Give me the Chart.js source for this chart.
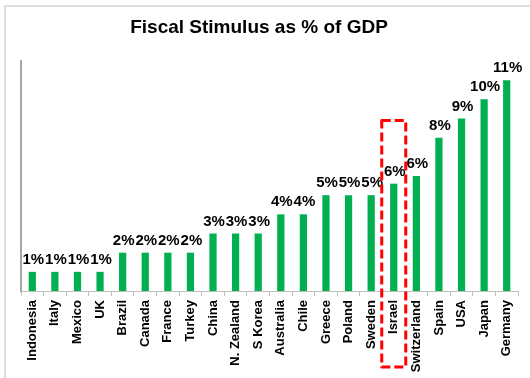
<!DOCTYPE html>
<html>
<head>
<meta charset="utf-8">
<script src="https://cdn.jsdelivr.net/npm/chart.js@4.4.0/dist/chart.umd.min.js"></script>
<style>
  body { margin: 0; background: #fff; }
  #wrap { width: 530px; height: 378px; }
</style>
</head>
<body>
<div id="wrap"><canvas id="c" width="530" height="378"></canvas></div>
<script>
var countries = ['Indonesia', 'Italy', 'Mexico', 'UK', 'Brazil', 'Canada', 'France', 'Turkey', 'China',
    'N. Zealand', 'S Korea', 'Australia', 'Chile', 'Greece', 'Poland', 'Sweden', 'Israel', 'Switzerland',
    'Spain', 'USA', 'Japan', 'Germany'];
var stimulus = [1, 1, 1, 1, 2, 2, 2, 2, 3, 3, 3, 4, 4, 5, 5, 5, 5.6, 6, 8, 9, 10, 11];
var yMax = 12;
var highlight = 'Israel';
var highlightTop = 8.9;

// light frame round the chart, like the excel chart area
var framePlugin = {
    id: 'frame',
    beforeDraw: function(chart) {
        var ctx = chart.ctx;
        ctx.save();
        ctx.strokeStyle = '#dedede';
        ctx.lineWidth = 2;
        ctx.beginPath();
        ctx.moveTo(5, 378);
        ctx.lineTo(5, 6);
        ctx.lineTo(530, 6);
        ctx.stroke();
        ctx.restore();
    }
};

// value labels above bars
var labelPlugin = {
    id: 'valueLabels',
    afterDatasetsDraw: function(chart) {
        var ctx = chart.ctx;
        var meta = chart.getDatasetMeta(0);
        ctx.save();
        ctx.font = 'bold 15px "Liberation Sans", Arial, sans-serif';
        ctx.fillStyle = '#000';
        ctx.textAlign = 'center';
        ctx.textBaseline = 'alphabetic';
        meta.data.forEach(function(bar, i) {
            ctx.fillText(Math.round(stimulus[i]) + '%', bar.x + 1, bar.y - 8);
        });
        ctx.restore();
    }
};

// red dashed box round Israel
var boxPlugin = {
    id: 'highlightBox',
    afterDraw: function(chart) {
        var ctx = chart.ctx;
        var x = chart.scales.x.getPixelForValue(countries.indexOf(highlight));
        var top = chart.scales.y.getPixelForValue(highlightTop);
        var bottom = chart.chartArea.bottom + 76;
        ctx.save();
        ctx.strokeStyle = '#ff0000';
        ctx.lineWidth = 3;
        ctx.lineJoin = 'round';
        ctx.setLineDash([9, 4]);
        ctx.strokeRect(x - 12, top, 24, bottom - top);
        ctx.restore();
    }
};

var chart = new Chart(document.getElementById('c'), {
    type: 'bar',
    data: {
        labels: countries,
        datasets: [{
            data: stimulus,
            backgroundColor: '#00B050',
            borderWidth: 0,
            barPercentage: 0.32,
            categoryPercentage: 1.0
        }]
    },
    options: {
        responsive: false,
        animation: false,
        layout: { padding: { left: 0, right: 12, top: 0, bottom: 0 } },
        plugins: {
            legend: { display: false },
            tooltip: { enabled: false },
            title: {
                display: true,
                text: 'Fiscal Stimulus as % of GDP',
                color: '#000',
                font: { family: '"Liberation Sans", Arial, sans-serif', size: 19, weight: 'bold' },
                padding: { top: 16.6, bottom: 21.6 }
            }
        },
        scales: {
            x: {
                grid: { display: true, offset: true, drawOnChartArea: false, drawTicks: true, tickLength: 5, color: '#bfbfbf' },
                border: { display: true, color: '#bfbfbf' },
                ticks: {
                    color: '#000',
                    font: { family: '"Liberation Sans", Arial, sans-serif', size: 13, weight: 'bold' },
                    minRotation: 90,
                    maxRotation: 90,
                    autoSkip: false,
                    padding: 4
                },
                afterFit: function(scale) { scale.height = 87; }
            },
            y: {
                min: 0,
                max: yMax,
                grid: { display: false },
                border: { display: true, color: '#a6a6a6', width: 2 },
                ticks: { display: false },
                afterFit: function(scale) { scale.width = 21; }
            }
        }
    },
    plugins: [framePlugin, labelPlugin, boxPlugin]
});
</script>
</body>
</html>
